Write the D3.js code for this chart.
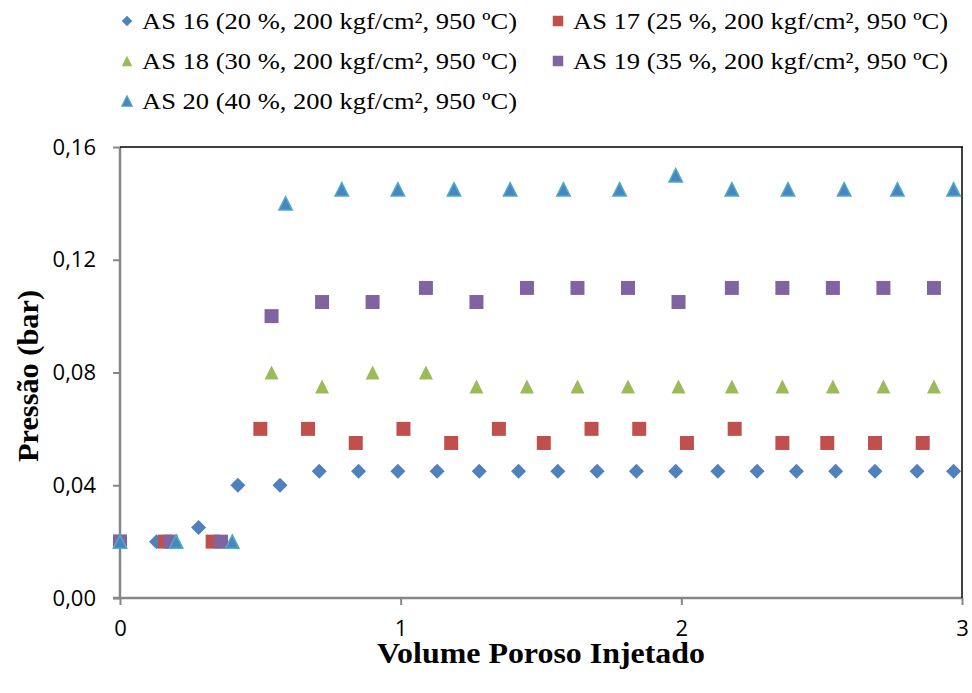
<!DOCTYPE html>
<meta charset="utf-8">
<script src="https://d3js.org/d3.v7.min.js"></script>

<style>
body{margin:0;background:#fff;}
.tick text{font-family:"Open Sans",sans-serif;font-size:22px;fill:#000;}
</style>

<body>
<script>
// valores
var xTicks=[0,1,2,3];
var yTicks=[0,0.04,0.08,0.12,0.16];
var names=["AS 16 (20 %, 200 kgf/cm², 950 ºC)","AS 17 (25 %, 200 kgf/cm², 950 ºC)",
           "AS 18 (30 %, 200 kgf/cm², 950 ºC)","AS 19 (35 %, 200 kgf/cm², 950 ºC)",
           "AS 20 (40 %, 200 kgf/cm², 950 ºC)"];

var as16x=[0,0.13,0.28,0.42,0.57,0.71,0.85,0.99,1.13,1.28,1.42,1.56,1.70,1.84,1.98,2.13,2.27,2.41,2.55,2.69,2.84,2.97];
var as16y=[0.02,0.02,0.025,0.04,0.04,0.045,0.045,0.045,0.045,0.045,0.045,0.045,0.045,0.045,0.045,0.045,0.045,0.045,0.045,0.045,0.045,0.045];

var as17x=[0,0.16,0.33,0.50,0.67,0.84,1.01,1.18,1.35,1.51,1.68,1.85,2.02,2.19,2.36,2.52,2.69,2.86];
var as17y=[0.02,0.02,0.02,0.06,0.06,0.055,0.06,0.055,0.06,0.055,0.06,0.06,0.055,0.06,0.055,0.055,0.055,0.055];

var as18x=[0,0.18,0.36,0.54,0.72,0.90,1.09,1.27,1.45,1.63,1.81,1.99,2.18,2.36,2.54,2.72,2.90];
var as18y=[0.02,0.02,0.02,0.08,0.075,0.08,0.08,0.075,0.075,0.075,0.075,0.075,0.075,0.075,0.075,0.075,0.075];

var as19x=[0,0.18,0.36,0.54,0.72,0.90,1.09,1.27,1.45,1.63,1.81,1.99,2.18,2.36,2.54,2.72,2.90];
var as19y=[0.02,0.02,0.02,0.10,0.105,0.105,0.11,0.105,0.11,0.11,0.11,0.105,0.11,0.11,0.11,0.11,0.11];

var as20x=[0,0.20,0.40,0.59,0.79,0.99,1.19,1.39,1.58,1.78,1.98,2.18,2.38,2.58,2.77,2.97];
var as20y=[0.02,0.02,0.02,0.14,0.145,0.145,0.145,0.145,0.145,0.145,0.15,0.145,0.145,0.145,0.145,0.145];
</script>

<script>
var serif="'Liberation Serif',Tinos,'Times New Roman',Times,serif";

var svg=d3.select("body").append("svg")
    .attr("width",972)
    .attr("height",693);

var xscale=d3.scaleLinear().domain([0,3]).range([120,962]);
var yscale=d3.scaleLinear().domain([0,0.16]).range([598,147]);

var br=d3.formatLocale({decimal:",",thousands:".",grouping:[3],currency:["","€"]});

// marcadores estilo excel
var diamond={draw:function(c,size){var r=Math.sqrt(size)/2;c.moveTo(0,-r);c.lineTo(r,0);c.lineTo(0,r);c.lineTo(-r,0);c.closePath();}};
var square={draw:function(c,size){var r=Math.sqrt(size)/2;c.rect(-r,-r,2*r,2*r);}};
var tri={draw:function(c,size){var r=Math.sqrt(size)/2;c.moveTo(0,-r);c.lineTo(r,r);c.lineTo(-r,r);c.closePath();}};

var series=[
 {x:as16x,y:as16y,shape:diamond,fill:"#4f81bd",stroke:"none",size:225},
 {x:as17x,y:as17y,shape:square,fill:"#c0504d",stroke:"none",size:196},
 {x:as18x,y:as18y,shape:tri,fill:"#9bbb59",stroke:"none",size:196},
 {x:as19x,y:as19y,shape:square,fill:"#8064a2",stroke:"none",size:196},
 {x:as20x,y:as20y,shape:tri,fill:"#4a84c2",stroke:"#4bacc6",size:180}
];

// eixos
var yaxis=d3.axisLeft(yscale).tickValues(yTicks).tickSize(7).tickPadding(17).tickFormat(br.format(".2f"));
var xaxis=d3.axisBottom(xscale).tickValues(xTicks).tickSize(7).tickPadding(15).tickFormat(br.format("d"));

var gy=svg.append("g").attr("transform","translate(120,0)").call(yaxis);
var gx=svg.append("g").attr("transform","translate(0,598)").call(xaxis);
svg.selectAll(".domain").remove();
svg.selectAll(".tick line").attr("stroke","#868686").attr("stroke-width",2);

svg.append("line").attr("x1",120).attr("x2",120).attr("y1",147).attr("y2",598)
   .attr("stroke","#868686").attr("stroke-width",2.5);
svg.append("line").attr("x1",113).attr("x2",962).attr("y1",598).attr("y2",598)
   .attr("stroke","#868686").attr("stroke-width",2.5);
svg.append("line").attr("x1",120).attr("x2",963).attr("y1",147).attr("y2",147)
   .attr("stroke","#000").attr("stroke-width",1.5);
svg.append("line").attr("x1",962).attr("x2",962).attr("y1",147).attr("y2",598)
   .attr("stroke","#000").attr("stroke-width",1.5);

// pontos
series.forEach(function(s){
  var sym=d3.symbol().type(s.shape).size(s.size);
  svg.append("g").selectAll("path")
     .data(s.x)
     .enter()
     .append("path")
     .attr("transform",function(d,i){return "translate("+xscale(d)+","+yscale(s.y[i])+")"})
     .attr("d",sym)
     .attr("fill",s.fill)
     .attr("stroke",s.stroke)
     .attr("stroke-width",1.5);
});

// legenda
var lx=[127,558],ly=[21,61,101];
series.forEach(function(s,i){
  var cx=lx[i%2],cy=ly[Math.floor(i/2)];
  svg.append("path")
     .attr("transform","translate("+cx+","+cy+")")
     .attr("d",d3.symbol().type(s.shape).size(110))
     .attr("fill",s.fill)
     .attr("stroke",s.stroke)
     .attr("stroke-width",1.2);
  svg.append("text")
     .attr("x",cx+15)
     .attr("y",cy+8)
     .style("font-family",serif)
     .style("font-size","23px")
     .attr("textLength",375)
     .attr("lengthAdjust","spacingAndGlyphs")
     .text(names[i]);
});

// titulos
svg.append("text")
   .attr("x",541).attr("y",663)
   .style("font-family",serif)
   .style("text-anchor","middle")
   .style("font-size","30px")
   .style("font-weight","bold")
   .attr("textLength",328)
   .attr("lengthAdjust","spacingAndGlyphs")
   .text("Volume Poroso Injetado");

svg.append("text")
   .attr("transform","translate("+38+","+376+") rotate(-90)")
   .style("font-family",serif)
   .style("text-anchor","middle")
   .style("font-size","30px")
   .style("font-weight","bold")
   .attr("textLength",172)
   .attr("lengthAdjust","spacingAndGlyphs")
   .text("Pressão (bar)");
</script>
</body>
</html>
